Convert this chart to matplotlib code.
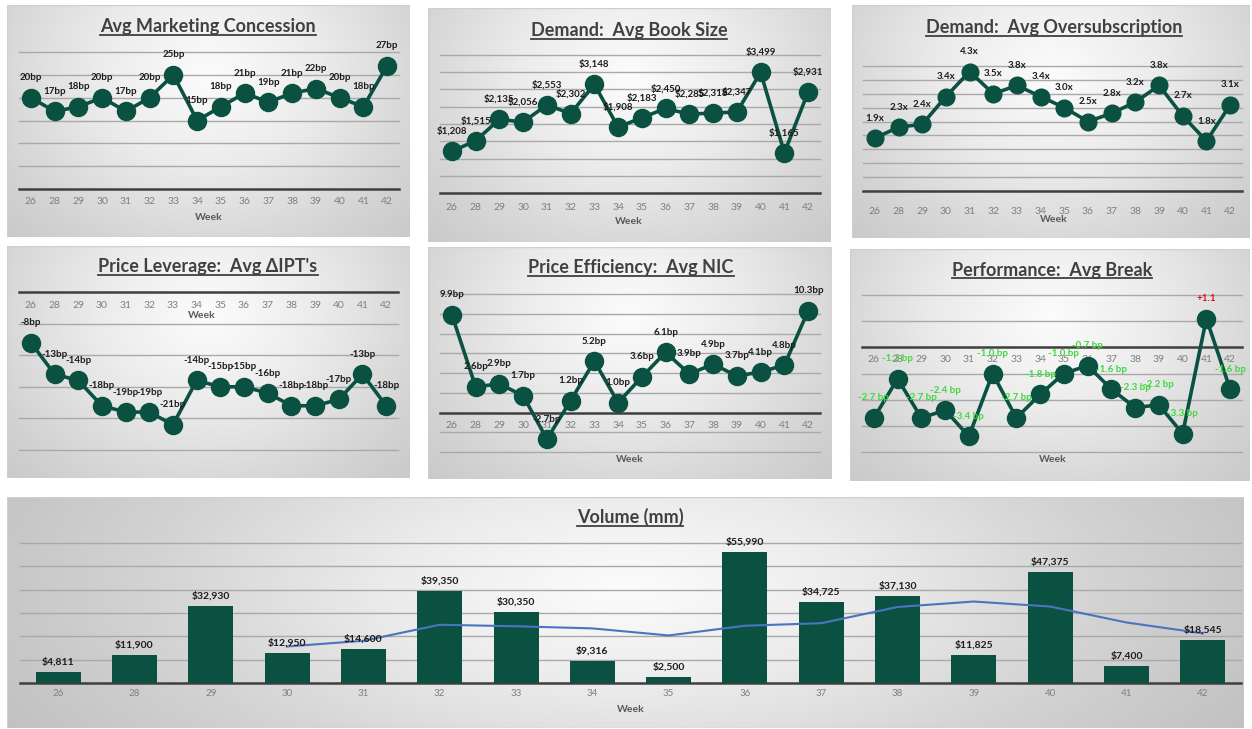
import numpy as np
import pandas as pd
import matplotlib
matplotlib.use('Agg')
import matplotlib.pyplot as plt
from matplotlib.colors import LinearSegmentedColormap
from matplotlib.lines import Line2D
from matplotlib.patches import Rectangle

plt.rcParams['font.family'] = ['Lato', 'DejaVu Sans']

# ---------------- data ----------------
weeks = ['26', '28', '29', '30', '31', '32', '33', '34', '35', '36', '37', '38', '39', '40', '41', '42']
concession_bp = [20, 17, 18, 20, 17, 20, 25, 15, 18, 21, 19, 21, 22, 20, 18, 27]
book_size = [1208, 1515, 2135, 2056, 2553, 2302, 3148, 1908, 2183, 2450, 2285, 2318, 2347, 3499, 1165, 2931]
oversubscription = [1.9, 2.3, 2.4, 3.4, 4.3, 3.5, 3.8, 3.4, 3.0, 2.5, 2.8, 3.2, 3.8, 2.7, 1.8, 3.1]
ipt_change_bp = [-8, -13, -14, -18, -19, -19, -21, -14, -15, -15, -16, -18, -18, -17, -13, -18]
nic_bp = [9.9, 2.6, 2.9, 1.7, -2.7, 1.2, 5.2, 1.0, 3.6, 6.1, 3.9, 4.9, 3.7, 4.1, 4.8, 10.3]
break_bp = [-2.7, -1.2, -2.7, -2.4, -3.4, -1.0, -2.7, -1.8, -1.0, -0.7, -1.6, -2.3, -2.2, -3.3, 1.1, -1.6]
volume_mm = [4811, 11900, 32930, 12950, 14600, 39350, 30350, 9316, 2500, 55990, 34725, 37130, 11825, 47375, 7400, 18545]

# ---------------- style ----------------
W, H = 1252, 729
GREEN = '#0a5142'
GRID = '#a9a9a9'
AXIS = '#3f3f3f'
TICK = '#7f7f7f'
TITLE = '#404040'
LABEL = '#1c1c1c'
BLUE = '#4a74c0'
BREAK_NEG = '#3fd83f'
BREAK_POS = '#e01010'

fig = plt.figure(figsize=(W / 100, H / 100), dpi=100)
fig.patch.set_facecolor('white')

bg_cmap = LinearSegmentedColormap.from_list('bg', ['#fcfcfc', '#ebebeb', '#d3d3d3', '#c0c0c0'])


def box(l, t, r, b):
    return [l / W, 1 - b / H, (r - l) / W, (b - t) / H]


def background(l, t, r, b, cx=0.5, cy=0.3, rx=0.85, ry=1.2):
    ax = fig.add_axes(box(l, t, r, b), zorder=0)
    xs = np.linspace(0, 1, 400)
    ys = np.linspace(0, 1, 240)
    X, Y = np.meshgrid(xs, ys)
    d = np.sqrt(((X - cx) / rx) ** 2 + ((Y - cy) / ry) ** 2)
    d = np.clip(d, 0, 1)
    ax.imshow(d, cmap=bg_cmap, vmin=0, vmax=1, extent=(0, 1, 0, 1), aspect='auto', interpolation='bilinear')
    ax.add_patch(Rectangle((0, 0), 1, 1, transform=ax.transAxes, fill=False, ec='#cfcfcf', lw=1))
    ax.set_xlim(0, 1)
    ax.set_ylim(0, 1)
    ax.axis('off')


titles = []


def add_title(text, cx, baseline, size=13):
    t = fig.text(cx / W, 1 - baseline / H, text, ha='center', va='baseline',
                 fontsize=size, fontweight='bold', color=TITLE)
    titles.append((t, baseline))


def add_week(x, y):
    fig.text(x / W, 1 - y / H, 'Week', ha='center', va='center', fontsize=7.5,
             fontweight='bold', color='#595959')


def plot_axes(l, t, r, b, ylim, gridvals):
    ax = fig.add_axes(box(l, t, r, b), zorder=2)
    ax.patch.set_alpha(0)
    ax.set_xlim(-0.5, len(weeks) - 0.5)
    ax.set_ylim(*ylim)
    for g in gridvals:
        if abs(g) < 1e-9:
            ax.axhline(g, color=AXIS, lw=1.8, zorder=2, clip_on=False)
        else:
            ax.axhline(g, color=GRID, lw=1.0, zorder=1, clip_on=False)
    ax.set_xticks([])
    ax.set_yticks([])
    for s in ax.spines.values():
        s.set_visible(False)
    return ax


def tick_labels(ax, yval, offset_px, size=7.5):
    for i, w in enumerate(weeks):
        ax.annotate(w, (i, yval), xytext=(0, -offset_px * 0.72), textcoords='offset points',
                    ha='center', va='center', fontsize=size, color=TICK, annotation_clip=False)


def line_series(ax, values, labels, colors=None, ms=13):
    x = np.arange(len(weeks))
    ax.plot(x, values, color=GREEN, lw=2.6, marker='o', ms=ms, mfc=GREEN, mec=GREEN,
            zorder=5, clip_on=False)
    for i, (v, lb) in enumerate(zip(values, labels)):
        c = LABEL if colors is None else colors[i]
        ax.annotate(lb, (i, v), xytext=(0, 20 * 0.72), textcoords='offset points',
                    ha='center', va='center', fontsize=7, fontweight='bold', color=c,
                    zorder=6, annotation_clip=False)


# ---------- Panel 1: Avg Marketing Concession ----------
background(7, 5, 410, 237)
ax1 = plot_axes(19, 52, 399, 189, (0, 30), np.arange(0, 31, 5))
line_series(ax1, concession_bp, [f'{v}bp' for v in concession_bp])
tick_labels(ax1, 0, 13)
add_title('Avg Marketing Concession', 208, 32)
add_week(209, 217)

# ---------- Panel 2: Avg Book Size ----------
background(428, 8, 831, 242)
ax2 = plot_axes(440, 55, 820, 193, (0, 4000), np.arange(0, 4001, 500))
line_series(ax2, book_size, [f'${v:,}' for v in book_size])
tick_labels(ax2, 0, 14)
add_title('Demand:  Avg Book Size', 629, 36)
add_week(629, 221)

# ---------- Panel 3: Avg Oversubscription ----------
background(852, 5, 1250, 238)
ax3 = plot_axes(863, 66, 1242, 191, (0, 4.5), np.arange(0, 4.51, 0.5))
line_series(ax3, oversubscription, [f'{v:.1f}x' for v in oversubscription], ms=12)
tick_labels(ax3, 0, 20)
add_title('Demand:  Avg Oversubscription', 1054, 33)
add_week(1054, 219)

# ---------- Panel 4: Avg ΔIPT's ----------
background(7, 246, 410, 478)
ax4 = plot_axes(19, 292, 398, 450, (-25, 0), np.arange(-25, 1, 5))
line_series(ax4, ipt_change_bp, [f'{v}bp' for v in ipt_change_bp])
tick_labels(ax4, 0, 14)
add_title("Price Leverage:  Avg \u0394IPT's", 208, 272)
add_week(202, 316)

# ---------- Panel 5: Avg NIC ----------
background(428, 247, 832, 479)
ax5 = plot_axes(440, 294, 820, 452, (-4, 12), np.arange(-4, 12.1, 2))
line_series(ax5, nic_bp, [f'{v:.1f}bp' for v in nic_bp])
tick_labels(ax5, 0, 13)
add_title('Price Efficiency:  Avg NIC', 631, 273)
add_week(630, 460)

# ---------- Panel 6: Avg Break ----------
background(850, 249, 1250, 481)
ax6 = plot_axes(862, 295, 1242, 452, (-4, 2), np.arange(-4, 2.1, 1))
brk_labels = [f'+{v:.1f}' if v > 0 else f'{v:.1f} bp' for v in break_bp]
brk_colors = [BREAK_POS if v > 0 else BREAK_NEG for v in break_bp]
line_series(ax6, break_bp, brk_labels, colors=brk_colors)
tick_labels(ax6, 0, 12)
add_title('Performance:  Avg Break', 1052, 276)
add_week(1053, 460)

# ---------- Panel 7: Volume ----------
background(7, 497, 1244, 728, cx=0.5, cy=0.4, rx=0.58, ry=1.3)
ax7 = plot_axes(20, 543, 1241, 683, (0, 60000), np.arange(0, 60001, 10000))
x = np.arange(len(weeks))
ax7.bar(x, volume_mm, width=0.59, color=GREEN, zorder=3)
moving_avg = pd.Series(volume_mm).rolling(4).mean()
ax7.plot(x, moving_avg, color=BLUE, lw=1.5, zorder=4)
for i, v in enumerate(volume_mm):
    ax7.annotate(f'${v:,}', (i, v), xytext=(0, 4), textcoords='offset points', ha='center',
                 va='bottom', fontsize=7.5, fontweight='bold', color=LABEL, zorder=6,
                 annotation_clip=False)
tick_labels(ax7, 0, 11, size=7)
add_title('Volume (mm)', 630, 523)
add_week(631, 710)

# ---------- underline titles ----------
fig.canvas.draw()
renderer = fig.canvas.get_renderer()
for t, baseline in titles:
    bb = t.get_window_extent(renderer)
    yl = (H - baseline - 2.5) / H
    fig.add_artist(Line2D([bb.x0 / W, bb.x1 / W], [yl, yl], transform=fig.transFigure,
                          color=TITLE, lw=1.3, zorder=10))

fig.savefig('out.png', dpi=100)
